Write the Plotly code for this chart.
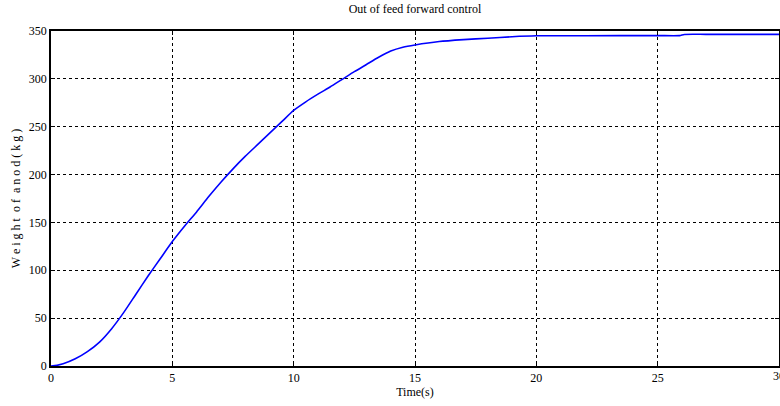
import plotly.graph_objects as go

time_s = [0, 0.25, 0.5, 1.0, 1.5, 2.0, 2.5, 3.0, 3.5, 4.0, 4.5, 5.0, 5.5, 6.0, 6.5,
          7.0, 7.5, 8.0, 8.5, 9.0, 9.5, 10.0, 10.5, 11.0, 11.5, 12.0, 12.5, 13.0,
          13.5, 14.0, 14.5, 15.0, 16.0, 17.0, 18.0, 19.0, 20.0, 22.0, 25.0, 25.9,
          26.1, 27.0, 30.0]
weight_kg = [0, 0.7, 2.3, 7.5, 15, 25, 39, 56, 75, 94, 112, 130, 146, 161, 177,
             192, 206, 219, 231, 243, 255, 267, 276, 284, 291.5, 299.5, 307.5, 315,
             322.5, 329, 333, 335.4, 339, 341, 342.5, 344, 345, 345.1, 345.2, 345.2,
             346.4, 346.5, 346.5]

x_ticks = [0, 5, 10, 15, 20, 25, 30]
y_ticks = [0, 50, 100, 150, 200, 250, 300, 350]

fig = go.Figure()
fig.add_trace(go.Scatter(x=time_s, y=weight_kg, mode="lines",
                         line=dict(color="#0000ff", width=1.6, shape="spline", smoothing=0.6),
                         showlegend=False))

font = dict(family="Liberation Serif", size=12, color="black")
axis_common = dict(showline=True, linecolor="black", linewidth=1.5, mirror="ticks",
                   ticks="inside", ticklen=4, tickcolor="black", tickwidth=1,
                   showgrid=True, gridcolor="black", gridwidth=1, griddash="3px,3px",
                   zeroline=False, tickfont=font, automargin=False)

fig.update_layout(
    width=780, height=406,
    margin=dict(l=51, r=1, t=31, b=40, autoexpand=False),
    paper_bgcolor="white", plot_bgcolor="white",
    font=font,
    title=dict(text="Out of feed forward control", x=0.532, xanchor="center",
               y=0.988, yanchor="top", font=font),
    xaxis=dict(range=[0, 30], tickvals=x_ticks, ticktext=[str(v) for v in x_ticks],
               title=dict(text="Time(s)", font=font, standoff=0), **axis_common),
    yaxis=dict(range=[0, 350], tickvals=y_ticks, ticktext=[str(v) for v in y_ticks],
               title=dict(text="W e i g h t  o f  a n o d ( k g )", font=font, standoff=6),
               **axis_common),
)

# last tick label (partly outside the window, as in the reference)
fig.add_annotation(x=x_ticks[-1], y=0, xref="x", yref="paper", text=str(x_ticks[-1]),
                   showarrow=False, yanchor="top", yshift=-1, font=font)

fig.write_html("out.html", config={"displayModeBar": False})

with open("out.html", "r", encoding="utf-8") as f:
    html = f.read()
html = html.replace("<head>", "<head><style>html,body{margin:0;padding:0;overflow:hidden;}</style>", 1)
with open("out.html", "w", encoding="utf-8") as f:
    f.write(html)
